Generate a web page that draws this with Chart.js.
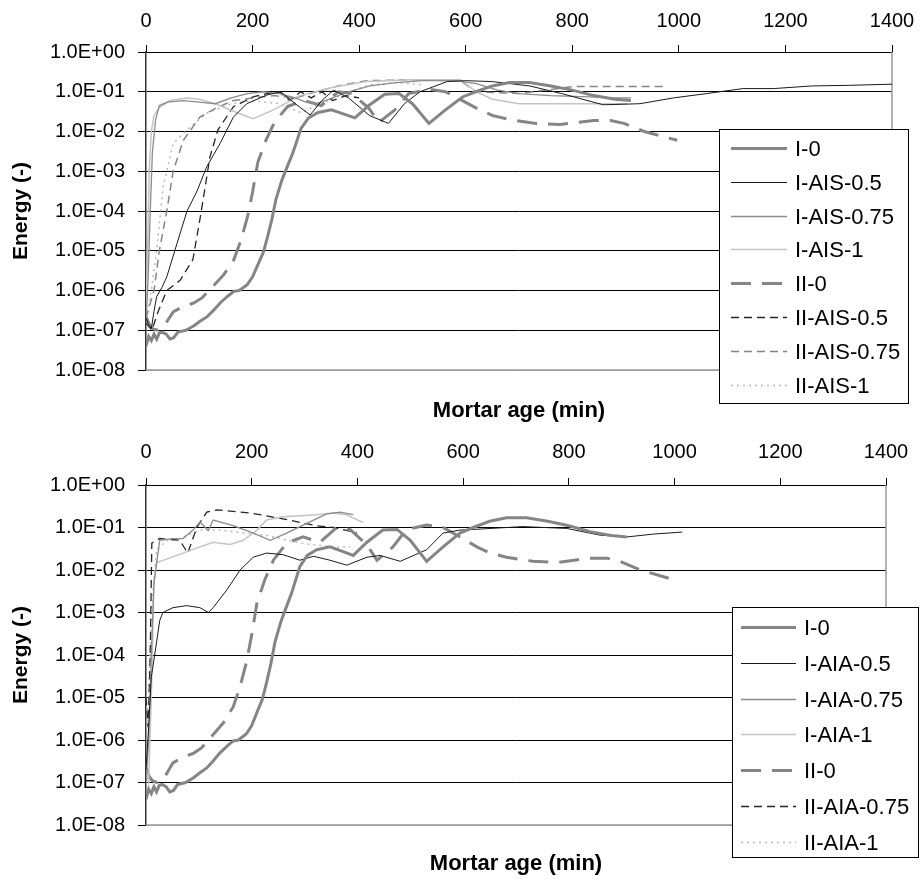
<!DOCTYPE html>
<html>
<head>
<meta charset="utf-8">
<script src="https://cdn.jsdelivr.net/npm/chart.js@4.4.0/dist/chart.umd.min.js"></script>
<style>
  body { margin: 0; background: #fff; }
  .wrap { position: absolute; left: 0; }
</style>
</head>
<body>
<div class="wrap" style="top:0"><canvas id="topChart" width="920" height="430"></canvas></div>
<div class="wrap" style="top:430px"><canvas id="bottomChart" width="920" height="449"></canvas></div>
<script>
// axis settings
const xTicks = [0, 200, 400, 600, 800, 1000, 1200, 1400];
const yTicks = [1e-8, 1e-7, 1e-6, 1e-5, 1e-4, 1e-3, 1e-2, 1e-1, 1];

// reference mortars (same curves in both graphs)
const i0Time   = [0, 5, 10, 15, 20, 25, 30, 38, 45, 52, 60, 75, 90, 102, 115, 127, 140, 155, 165, 175, 190, 200, 210, 220, 228, 236, 244, 255, 264, 276, 291, 305, 323, 348, 373, 392, 418, 448, 475, 500, 531, 562, 594, 619, 650, 682, 720, 760, 800, 840, 880, 910];
const i0Energy = [4e-8, 7e-8, 5.5e-8, 8e-8, 6e-8, 8.5e-8, 9e-8, 8e-8, 6e-8, 6.5e-8, 9e-8, 1e-7, 1.3e-7, 1.7e-7, 2.2e-7, 3.2e-7, 5e-7, 7.5e-7, 9.5e-7, 1e-6, 1.4e-6, 2.2e-6, 4.5e-6, 9e-6, 2.2e-5, 6e-5, 2e-4, 6e-4, 1.2e-3, 3e-3, 1.2e-2, 2.2e-2, 0.03, 0.035, 0.027, 0.022, 0.045, 0.087, 0.09, 0.05, 0.016, 0.035, 0.074, 0.1, 0.14, 0.17, 0.17, 0.14, 0.11, 0.08, 0.065, 0.06];

const ii0Time   = [0, 6, 12, 20, 28, 36, 51, 70, 89, 105, 121, 146, 165, 178, 191, 200, 210, 225, 241, 266, 297, 329, 361, 386, 418, 437, 467, 493, 531, 562, 594, 626, 651, 682, 732, 777, 810, 840, 872, 897, 935, 997];
const ii0Energy = [2.2e-7, 1.4e-7, 1.1e-7, 1e-7, 1.1e-7, 1.4e-7, 2.9e-7, 4e-7, 4.8e-7, 6.5e-7, 1.1e-6, 2.5e-6, 6e-6, 1.8e-5, 7.6e-5, 3e-4, 1.7e-3, 6e-3, 0.017, 0.043, 0.06, 0.045, 0.1, 0.09, 0.039, 0.017, 0.035, 0.09, 0.115, 0.1, 0.06, 0.035, 0.025, 0.02, 0.016, 0.015, 0.017, 0.019, 0.019, 0.016, 0.01, 0.006];

// AIS series (upper graph)
const iAis05Time   = [0, 6, 10, 15, 20, 30, 39, 58, 77, 95, 114, 139, 164, 189, 227, 253, 280, 308, 330, 352, 380, 420, 455, 485, 514, 565, 600, 650, 720, 780, 858, 927, 990, 1052, 1120, 1177, 1250, 1320, 1400];
const iAis05Energy = [2e-7, 1.3e-7, 1.1e-7, 3e-7, 7e-7, 1.2e-6, 2.2e-6, 1.5e-5, 1e-4, 3e-4, 1.3e-3, 5e-3, 0.023, 0.05, 0.083, 0.1, 0.05, 0.026, 0.06, 0.11, 0.07, 0.025, 0.016, 0.05, 0.1, 0.18, 0.19, 0.18, 0.14, 0.09, 0.047, 0.05, 0.07, 0.09, 0.12, 0.12, 0.14, 0.145, 0.155];

const iAis075Time   = [0, 4, 8, 12, 18, 25, 40, 70, 100, 130, 160, 190, 220, 250, 280, 300, 320, 350, 380, 420, 470, 520, 580, 620, 660, 700, 760, 820, 880, 910];
const iAis075Energy = [1.5e-7, 2e-6, 1e-4, 3e-3, 0.02, 0.045, 0.055, 0.06, 0.055, 0.05, 0.07, 0.09, 0.1, 0.09, 0.07, 0.055, 0.05, 0.07, 0.1, 0.14, 0.17, 0.19, 0.19, 0.16, 0.11, 0.09, 0.08, 0.075, 0.07, 0.07];

const iAis1Time   = [0, 3, 6, 10, 15, 25, 45, 77, 100, 130, 170, 201, 239, 289, 351, 414, 500, 590, 620, 650, 700, 800, 903];
const iAis1Energy = [3e-7, 1e-5, 1e-3, 0.01, 0.025, 0.04, 0.06, 0.07, 0.065, 0.05, 0.03, 0.021, 0.035, 0.08, 0.13, 0.18, 0.2, 0.2, 0.1, 0.065, 0.05, 0.05, 0.05];

const iiAis05Time   = [0, 11, 23, 39, 64, 88, 101, 111, 120, 135, 164, 201, 227, 250, 270, 290, 310, 330, 350, 375, 400];
const iiAis05Energy = [1.5e-7, 1e-7, 3e-7, 1e-6, 1.8e-6, 6e-6, 6e-5, 4e-4, 2.3e-3, 0.011, 0.042, 0.074, 0.09, 0.1, 0.06, 0.1, 0.07, 0.1, 0.06, 0.08, 0.07];

const iiAis075Time   = [0, 15, 25, 39, 51, 70, 101, 133, 164, 201, 240, 280, 320, 360, 414, 500, 589, 620, 700, 801, 900, 978];
const iiAis075Energy = [2e-7, 1e-6, 1e-5, 1e-4, 1e-3, 6e-3, 0.023, 0.04, 0.06, 0.07, 0.08, 0.07, 0.1, 0.14, 0.19, 0.2, 0.19, 0.1, 0.09, 0.135, 0.135, 0.135];

const iiAis1Time   = [0, 10, 20, 32, 51, 77, 114, 160, 200, 250, 290, 330, 380, 420, 470, 520];
const iiAis1Energy = [2e-7, 1e-6, 1e-5, 4e-4, 5e-3, 0.011, 0.029, 0.05, 0.06, 0.05, 0.03, 0.05, 0.1, 0.15, 0.17, 0.15];

// AIA series (lower graph)
const iAia05Time   = [0, 5, 10, 20, 26, 32, 51, 77, 102, 118, 127, 153, 178, 203, 228, 259, 291, 317, 348, 380, 418, 443, 481, 531, 562, 594, 619, 713, 796, 859, 910, 960, 1014];
const iAia05Energy = [2e-7, 2e-6, 3e-5, 2e-4, 6.5e-4, 1e-3, 1.3e-3, 1.45e-3, 1.3e-3, 1e-3, 1.3e-3, 3.4e-3, 1e-2, 0.02, 0.025, 0.023, 0.017, 0.021, 0.017, 0.013, 0.02, 0.022, 0.016, 0.03, 0.074, 0.087, 0.09, 0.105, 0.095, 0.066, 0.06, 0.07, 0.078];

const iAia075Time   = [0, 5, 10, 15, 26, 51, 70, 89, 102, 118, 127, 165, 203, 235, 266, 304, 342, 367, 392];
const iAia075Energy = [1e-7, 1e-6, 1e-4, 5e-3, 0.05, 0.055, 0.055, 0.087, 0.135, 0.085, 0.15, 0.11, 0.074, 0.05, 0.074, 0.125, 0.21, 0.23, 0.2];

const iAia1Time   = [0, 5, 10, 15, 20, 39, 70, 102, 127, 159, 184, 210, 228, 259, 323, 354, 380, 411];
const iAia1Energy = [2e-7, 1e-7, 1e-5, 5e-3, 0.015, 0.018, 0.025, 0.035, 0.045, 0.04, 0.05, 0.087, 0.15, 0.18, 0.2, 0.22, 0.2, 0.13];

const iiAia075Time   = [0, 4, 8, 11, 26, 64, 79, 96, 115, 134, 197, 259, 323, 354, 399];
const iiAia075Energy = [1e-5, 2e-6, 1e-4, 0.043, 0.055, 0.05, 0.025, 0.1, 0.23, 0.26, 0.22, 0.16, 0.11, 0.1, 0.075];

const iiAia1Time   = [0, 5, 10, 20, 40, 64, 102, 140, 165, 228, 291, 354, 386];
const iiAia1Energy = [1e-6, 1e-5, 1e-3, 0.03, 0.05, 0.055, 0.087, 0.087, 0.08, 0.065, 0.043, 0.035, 0.035];

const FONT = '"Liberation Sans", Arial, sans-serif';

function pts(xs, ys) {
    return xs.map((x, i) => ({ x: x, y: ys[i] }));
}

function sci(v) {
    const e = Math.round(Math.log10(v));
    return '1.0E' + (e < 0 ? '-' : '+') + String(Math.abs(e)).padStart(2, '0');
}

// line looks shared by both graphs
const LOOK = {
    thickSolid: { borderColor: '#858585', borderWidth: 3 },
    darkSolid:  { borderColor: '#1a1a1a', borderWidth: 1 },
    graySolid:  { borderColor: '#8c8c8c', borderWidth: 1.3 },
    lightSolid: { borderColor: '#c4c4c4', borderWidth: 1.5 },
    thickDash:  { borderColor: '#858585', borderWidth: 3, borderDash: [20, 11] },
    darkDash:   { borderColor: '#262626', borderWidth: 1.3, borderDash: [8, 5] },
    grayDash:   { borderColor: '#858585', borderWidth: 1.5, borderDash: [8, 5] },
    lightDot:   { borderColor: '#b8b8b8', borderWidth: 1.5, borderDash: [2, 4] }
};

function series(label, xs, ys, look) {
    return Object.assign({
        label: label,
        data: pts(xs, ys),
        pointRadius: 0,
        tension: 0,
        fill: false
    }, look);
}

// legend drawn in a box over the plot, like the original
const boxLegend = {
    id: 'boxLegend',
    afterDraw(chart, args, o) {
        const ctx = chart.ctx;
        ctx.save();
        ctx.fillStyle = '#fff';
        ctx.fillRect(o.left, o.top, o.width, o.height);
        ctx.strokeStyle = '#000';
        ctx.lineWidth = 1;
        ctx.strokeRect(o.left + 0.5, o.top + 0.5, o.width, o.height);
        chart.data.datasets.forEach((ds, i) => {
            const y = Math.round(o.top + o.first + i * o.step) + 0.5;
            ctx.beginPath();
            ctx.strokeStyle = ds.borderColor;
            ctx.lineWidth = ds.borderWidth;
            ctx.setLineDash(ds.borderDash || []);
            ctx.moveTo(o.left + o.lineFrom, y);
            ctx.lineTo(o.left + o.lineTo, y);
            ctx.stroke();
            ctx.setLineDash([]);
            ctx.fillStyle = '#000';
            ctx.font = '22px ' + FONT;
            ctx.textBaseline = 'middle';
            ctx.fillText(ds.label, o.left + o.textX, y + 1);
        });
        ctx.restore();
    }
};

// grey right and bottom edges of the plot area
const plotFrame = {
    id: 'plotFrame',
    beforeDatasetsDraw(chart) {
        const a = chart.chartArea;
        const ctx = chart.ctx;
        ctx.save();
        ctx.strokeStyle = '#9a9a9a';
        ctx.lineWidth = 1.5;
        ctx.beginPath();
        ctx.moveTo(a.right, a.top);
        ctx.lineTo(a.right, a.bottom);
        ctx.lineTo(a.left, a.bottom);
        ctx.stroke();
        ctx.restore();
    }
};

function makeChart(id, datasets, g) {
    return new Chart(document.getElementById(id), {
        type: 'line',
        data: { datasets: datasets },
        plugins: [plotFrame, boxLegend],
        options: {
            responsive: false,
            animation: false,
            events: [],
            layout: { padding: { left: 0, right: g.padRight, top: 0, bottom: 0 } },
            plugins: {
                legend: { display: false },
                tooltip: { enabled: false },
                boxLegend: g.legend
            },
            scales: {
                x: {
                    type: 'linear',
                    position: 'top',
                    min: 0,
                    max: 1400,
                    afterBuildTicks: s => { s.ticks = xTicks.map(v => ({ value: v })); },
                    afterFit: s => {
                        s.height = g.top;
                        s.paddingLeft = 0;
                        s.paddingRight = 0;
                    },
                    ticks: {
                        color: '#000',
                        font: { family: FONT, size: 20 },
                        padding: g.xPad,
                        maxRotation: 0,
                        callback: v => String(v)
                    },
                    grid: { drawOnChartArea: false, tickLength: 7, color: '#000', lineWidth: 1 },
                    border: { color: '#000', width: 1 }
                },
                xTitle: {
                    type: 'linear',
                    position: 'bottom',
                    min: 0,
                    max: 1400,
                    afterFit: s => {
                        s.height = g.below;
                        s.paddingLeft = 0;
                        s.paddingRight = 0;
                    },
                    ticks: { display: false },
                    grid: { display: false },
                    border: { display: false },
                    title: {
                        display: true,
                        text: 'Mortar age (min)',
                        color: '#000',
                        font: { family: FONT, size: 22, weight: 'bold' },
                        padding: { top: 0, bottom: g.titlePad }
                    }
                },
                y: {
                    type: 'logarithmic',
                    min: 1e-8,
                    max: 1,
                    afterBuildTicks: s => { s.ticks = yTicks.map(v => ({ value: v })); },
                    afterFit: s => { s.width = 146; },
                    ticks: {
                        color: '#000',
                        font: { family: FONT, size: 20 },
                        padding: 13,
                        callback: v => sci(v)
                    },
                    grid: {
                        tickLength: 8,
                        color: c => (c.tick && c.tick.value === 1e-8 ? '#9a9a9a' : '#000'),
                        tickColor: '#000',
                        lineWidth: 1
                    },
                    border: { color: '#333', width: 1.5 },
                    title: {
                        display: true,
                        text: 'Energy (-)',
                        color: '#000',
                        font: { family: FONT, size: 21, weight: 'bold' },
                        padding: { top: 9, bottom: 0 }
                    }
                }
            }
        }
    });
}

makeChart('topChart', [
    series('I-0', i0Time, i0Energy, LOOK.thickSolid),
    series('I-AIS-0.5', iAis05Time, iAis05Energy, LOOK.darkSolid),
    series('I-AIS-0.75', iAis075Time, iAis075Energy, LOOK.graySolid),
    series('I-AIS-1', iAis1Time, iAis1Energy, LOOK.lightSolid),
    series('II-0', ii0Time, ii0Energy, LOOK.thickDash),
    series('II-AIS-0.5', iiAis05Time, iiAis05Energy, LOOK.darkDash),
    series('II-AIS-0.75', iiAis075Time, iiAis075Energy, LOOK.grayDash),
    series('II-AIS-1', iiAis1Time, iiAis1Energy, LOOK.lightDot)
], {
    top: 52, below: 60, padRight: 28, xPad: 12, titlePad: 6,
    legend: { left: 719, top: 129, width: 189, height: 274, first: 19, step: 33.8, lineFrom: 12, lineTo: 68, textX: 76 }
});

makeChart('bottomChart', [
    series('I-0', i0Time, i0Energy, LOOK.thickSolid),
    series('I-AIA-0.5', iAia05Time, iAia05Energy, LOOK.darkSolid),
    series('I-AIA-0.75', iAia075Time, iAia075Energy, LOOK.graySolid),
    series('I-AIA-1', iAia1Time, iAia1Energy, LOOK.lightSolid),
    series('II-0', ii0Time, ii0Energy, LOOK.thickDash),
    series('II-AIA-0.75', iiAia075Time, iiAia075Energy, LOOK.darkDash),
    series('II-AIA-1', iiAia1Time, iiAia1Energy, LOOK.lightDot)
], {
    top: 55, below: 54, padRight: 34, xPad: 14, titlePad: 2,
    legend: { left: 732, top: 177, width: 186, height: 250, first: 20, step: 35.8, lineFrom: 9, lineTo: 64, textX: 72 }
});
</script>
</body>
</html>
